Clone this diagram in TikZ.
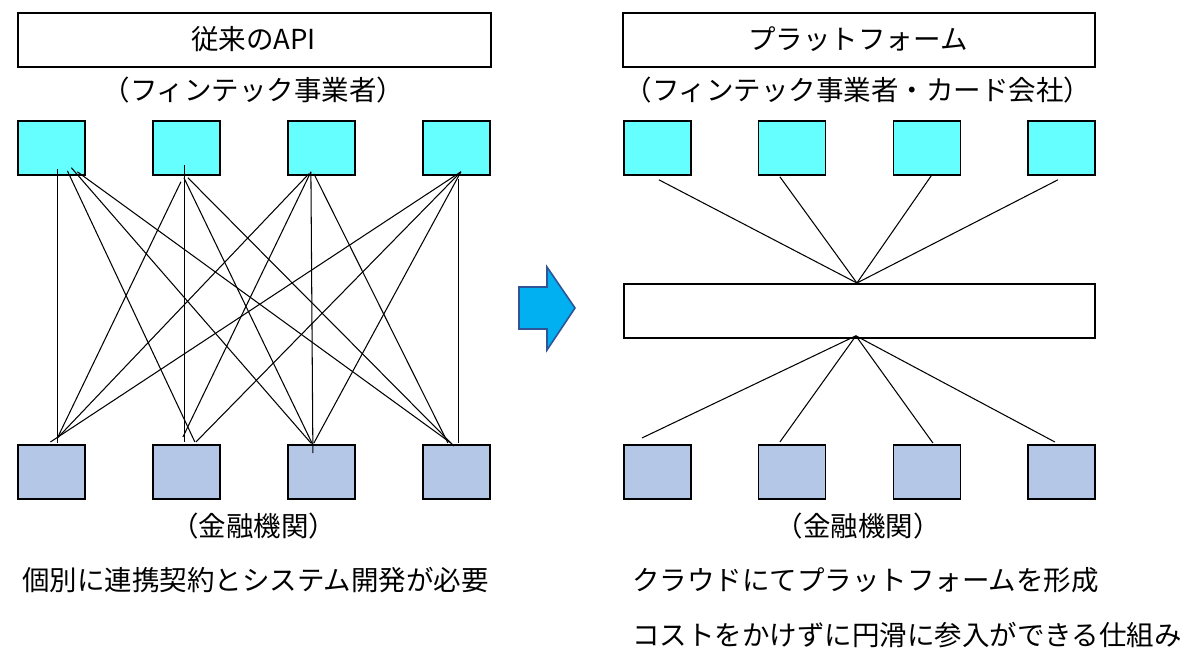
\documentclass[tikz,border=0pt]{standalone}
\usepackage{fontspec}
\setmainfont{Noto Sans CJK JP}
\definecolor{topfill}{HTML}{66FFFF}
\definecolor{botfill}{HTML}{B4C7E7}
\definecolor{arrowfill}{HTML}{00B0F0}
\definecolor{arrowline}{HTML}{2F5597}
\tikzset{
  box/.style={draw=black,line width=1.8pt,minimum width=67pt,minimum height=54pt,inner sep=0pt,anchor=north west},
  topbox/.style={box,fill=topfill},
  botbox/.style={box,fill=botfill},
  wide/.style={draw=black,line width=1.8pt,inner sep=0pt,anchor=north west,fill=white},
  lbl/.style={inner sep=0pt,font=\fontsize{27.5}{31}\selectfont},
  conn/.style={line width=1.05pt,black},
}
\begin{document}
\begin{tikzpicture}[x=1pt,y=-1pt]
\useasboundingbox (0,0) rectangle (1188,648);
% ---- left side
\node[wide,minimum width=473pt,minimum height=54pt] (ltitle) at (17,12) {};
\node[lbl,anchor=base] (ltitletext) at (253.5,49) {従来のAPI};
\node[lbl,anchor=base] (lsub) at (253.5,100) {（フィンテック事業者）};
\node[topbox] (t1) at (17,120) {};
\node[topbox] (t2) at (152,120) {};
\node[topbox] (t3) at (287,120) {};
\node[topbox] (t4) at (422,120) {};
\node[botbox] (b1) at (17,444) {};
\node[botbox] (b2) at (152,444) {};
\node[botbox] (b3) at (287,444) {};
\node[botbox] (b4) at (422,444) {};
% connectors from t1
\draw[conn] ([shift={(6,-7)}]t1.south) -- ([shift={(6,-1)}]b1.north);
\draw[conn] ([shift={(16,-5)}]t1.south) -- ([shift={(8.5,-2)}]b2.north);
\draw[conn] ([shift={(20,-8)}]t1.south) -- ([shift={(-10.5,-1)}]b3.north);
\draw[conn] ([shift={(26,-4)}]t1.south) -- ([shift={(-5.5,-1)}]b4.north);
% from t2
\draw[conn] ([shift={(-1.5,-11)}]t2.south) -- ([shift={(-1.5,-2)}]b2.north);
\draw[conn] ([shift={(-5.5,6)}]t2.south) -- ([shift={(6,-6)}]b1.north);
\draw[conn] ([shift={(-2.5,2)}]t2.south) -- ([shift={(-8.5,1)}]b3.north);
\draw[conn] ([shift={(1.5,2)}]t2.south) -- ([shift={(-2.5,2)}]b4.north);
% from t3
\draw[conn] ([shift={(-10.5,-4)}]t3.south) -- ([shift={(-8.5,9)}]b3.north);
\draw[conn] ([shift={(-12.5,-2)}]t3.south) -- ([shift={(6,-6)}]b1.north);
\draw[conn] ([shift={(-10.5,-4)}]t3.south) -- ([shift={(-3.5,-7)}]b2.north);
\draw[conn] ([shift={(-7.5,-2)}]t3.south) -- ([shift={(-8.5,-1)}]b4.north);
% from t4
\draw[conn] ([shift={(2.5,3)}]t4.south) -- ([shift={(2.5,-1)}]b4.north);
\draw[conn] ([shift={(4.5,-4)}]t4.south) -- ([shift={(-1,-2)}]b1.north);
\draw[conn] ([shift={(4.5,-4)}]t4.south) -- ([shift={(9.5,-2)}]b2.north);
\draw[conn] ([shift={(4.5,-4)}]t4.south) -- ([shift={(-7.5,-1)}]b3.north);
\node[lbl,anchor=base] (lfin) at (253.5,536) {（金融機関）};
\node[lbl,anchor=base west] (lnote) at (22,590) {個別に連携契約とシステム開発が必要};
% ---- arrow
\path[fill=arrowfill,draw=arrowline,line width=1.6pt,line join=miter]
  (519,287) -- (547,287) -- (547,267) -- (575,308) -- (547,350) -- (547,329) -- (519,329) -- cycle;
% ---- right side
\node[wide,minimum width=472pt,minimum height=54pt] (rtitle) at (622,12) {};
\node[lbl,anchor=base] (rtitletext) at (858,49) {プラットフォーム};
\node[lbl,anchor=base] (rsub) at (858,100) {（フィンテック事業者・カード会社）};
\node[topbox] (rt1) at (623,120) {};
\node[topbox] (rt2) at (757.5,120) {};
\node[topbox] (rt3) at (892.5,120) {};
\node[topbox] (rt4) at (1027,120) {};
\node[wide,minimum width=471pt,minimum height=54pt] (hub) at (623,283) {};
\node[botbox] (rb1) at (623,444) {};
\node[botbox] (rb2) at (757.5,444) {};
\node[botbox] (rb3) at (892.5,444) {};
\node[botbox] (rb4) at (1027,444) {};
\draw[conn] ([shift={(1.5,4)}]rt1.south) -- ([shift={(-2.5,0)}]hub.north);
\draw[conn] ([shift={(-12,1)}]rt2.south) -- ([shift={(-2.5,0)}]hub.north);
\draw[conn] ([shift={(5,-1)}]rt3.south) -- ([shift={(-2.5,0)}]hub.north);
\draw[conn] ([shift={(-3.5,4)}]rt4.south) -- ([shift={(-2.5,0)}]hub.north);
\draw[conn] ([shift={(-3.5,-3)}]hub.south) -- ([shift={(-15.5,-6)}]rb1.north);
\draw[conn] ([shift={(-3.5,-3)}]hub.south) -- ([shift={(-12,-2)}]rb2.north);
\draw[conn] ([shift={(-3.5,-3)}]hub.south) -- ([shift={(6,-1)}]rb3.north);
\draw[conn] ([shift={(-3.5,-3)}]hub.south) -- ([shift={(-6.5,-2)}]rb4.north);
\node[lbl,anchor=base] (rfin) at (858,536) {（金融機関）};
\node[lbl,anchor=base west] (rnote1) at (632,590) {クラウドにてプラットフォームを形成};
\node[lbl,anchor=base west] (rnote2) at (632,645) {コストをかけずに円滑に参入ができる仕組み};
\end{tikzpicture}
\end{document}
